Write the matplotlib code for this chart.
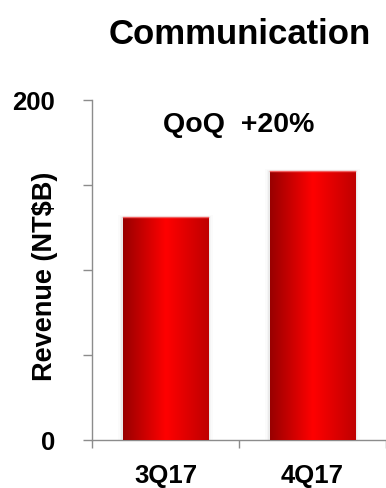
import numpy as np
import matplotlib
matplotlib.use('Agg')
import matplotlib.pyplot as plt
from matplotlib.colors import LinearSegmentedColormap

# chart data
quarters = ['3Q17', '4Q17']
revenue = [131, 158]
y_ticks = [0, 50, 100, 150, 200]
y_labels = ['0', '', '', '', '200']
title = 'Communication'
note = 'QoQ  +20%'

plt.rcParams['font.family'] = ['Liberation Sans', 'DejaVu Sans']
plt.rcParams['font.weight'] = 'bold'

fig = plt.figure(figsize=(3.86, 4.88), dpi=100)
ax = fig.add_axes([92 / 386, 48 / 488, 294 / 386, 340 / 488])

# red metallic gradient, dark left, bright middle, darker right
red_grad = LinearSegmentedColormap.from_list(
    'redbar', [(0.0, '#980000'), (0.5, '#ff0000'), (1.0, '#bf0000')])
grad = np.linspace(0, 1, 256).reshape(1, -1)

x = np.arange(len(quarters))
bars = ax.bar(x, revenue, width=0.58, color='none', edgecolor='none', zorder=2)
for b in bars:
    x0, y0 = b.get_x(), b.get_y()
    w, h = b.get_width(), b.get_height()
    # faint shadow behind the bar
    for k, a in enumerate([0.04, 0.025, 0.015]):
        d = 0.01 * (k + 1)
        ax.add_patch(plt.Rectangle((x0 - d, y0), w + 2 * d, h + 0.4 * (k + 1),
                                   facecolor='#000000', alpha=a, edgecolor='none', zorder=1))
    im = ax.imshow(grad, cmap=red_grad, aspect='auto', extent=(x0, x0 + w, y0, y0 + h),
                   interpolation='bicubic', zorder=3)
    im.set_clip_path(b)
    ax.plot([x0, x0 + w], [y0 + h, y0 + h], color='#f06060', lw=1.0, zorder=4)

ax.set_xlim(-0.5, 1.5)
ax.set_ylim(0, 200)

ax.set_yticks(y_ticks)
ax.set_yticklabels(y_labels, fontsize=18.5, fontweight='bold')
ax.tick_params(axis='y', direction='out', length=6.5, width=1, color='#8c8c8c', pad=20)

ax.set_xticks([-0.5, 0.5, 1.5])
ax.set_xticklabels([])
ax.tick_params(axis='x', which='major', direction='out', length=6, width=1, color='#8c8c8c')
ax.set_xticks(x, minor=True)
ax.set_xticklabels(quarters, minor=True, fontsize=18.5, fontweight='bold')
ax.tick_params(axis='x', which='minor', length=0, pad=17)

for s in ['top', 'right']:
    ax.spines[s].set_visible(False)
for s in ['left', 'bottom']:
    ax.spines[s].set_color('#8c8c8c')
    ax.spines[s].set_linewidth(1)

ax.set_ylabel('Revenue (NT$B)', fontsize=19.5, fontweight='bold')
ax.yaxis.set_label_coords(-0.115, 0.48)

fig.text(240 / 386, 1 - 34 / 488, title, ha='center', va='center',
         fontsize=25, fontweight='bold')
ax.text(0.5, 185, note, ha='center', va='center', fontsize=20.5, fontweight='bold')

fig.savefig('out.png', dpi=100)
